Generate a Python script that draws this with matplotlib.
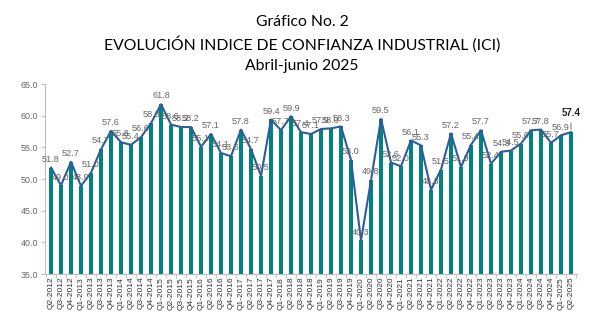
import numpy as np
import matplotlib.pyplot as plt

quarters = []
for yr in range(2012, 2026):
    for q in range(1, 5):
        if (yr == 2012 and q < 2) or (yr == 2025 and q > 2):
            continue
        quarters.append("Q%d-%d" % (q, yr))

ici = [51.8, 49.0, 52.7, 48.9, 51.0, 54.7, 57.6, 55.8, 55.4, 56.6,
       58.8, 61.8, 58.6, 58.2, 58.2, 55.1, 57.1, 54.1, 53.6, 57.8,
       54.7, 50.5, 59.4, 57.7, 59.9, 57.4, 57.1, 57.9, 58.0, 58.3,
       53.0, 40.3, 49.8, 59.5, 52.6, 52.0, 56.1, 55.3, 48.3, 51.5,
       57.2, 51.9, 55.4, 57.7, 52.4, 54.3, 54.5, 55.6, 57.7, 57.8,
       55.7, 56.9, 57.4]

bar_color = "#00827F"
line_color = "#2F5C9B"

fig = plt.figure(figsize=(6.04, 3.31), dpi=100)
ax = fig.add_axes([45/604, 1 - 274/331, 532/604, 190/331])

x = np.arange(len(ici))
ax.bar(x, ici, width=0.45, color=bar_color, zorder=2)
ax.plot(x, ici, color=line_color, lw=1.5, zorder=3)

for i, v in enumerate(ici):
    if i == len(ici) - 1:
        ax.annotate("%.1f" % v, (i, v), xytext=(i, v + 2.3), ha="center", va="bottom",
                    fontsize=7, fontweight="bold", color="#222222", family="Liberation Sans",
                    arrowprops=dict(arrowstyle="-", color="#555555", lw=0.6))
    else:
        ax.text(i, v + 0.6, "%.1f" % v, ha="center", va="bottom", fontsize=6.6,
                color="#666666", family="Liberation Sans", zorder=4)

ax.set_ylim(35, 65)
ax.set_yticks(np.arange(35, 65.1, 5))
ax.set_yticklabels(["%.1f" % t for t in np.arange(35, 65.1, 5)], fontsize=6.4,
                   color="#666666", family="Liberation Sans")
ax.set_xlim(-0.6, len(ici) - 0.4)
ax.set_xticks(x)
ax.set_xticklabels(quarters, rotation=90, fontsize=6.0, color="#333333", family="Liberation Sans")
ax.tick_params(axis="x", length=0, pad=2)
ax.set_xticks(np.arange(-0.5, len(ici), 1), minor=True)
ax.tick_params(axis="x", which="minor", length=3, color="#bfbfbf")
ax.tick_params(axis="y", length=3, color="#bfbfbf", pad=2)

for s in ["top", "right"]:
    ax.spines[s].set_visible(False)
ax.spines["left"].set_color("#bfbfbf")
ax.spines["bottom"].set_color("#bfbfbf")

fig.text(0.5, 1 - 22/331, "Gráfico No. 2", ha="center", va="center", fontsize=11.3, family="Lato")
fig.text(0.5, 1 - 44/331, "EVOLUCIÓN INDICE DE CONFIANZA INDUSTRIAL (ICI)", ha="center",
         va="center", fontsize=11.3, family="Lato")
fig.text(0.5, 1 - 66/331, "Abril-junio 2025", ha="center", va="center", fontsize=11.3, family="Lato")

fig.savefig("out.png", dpi=100)
